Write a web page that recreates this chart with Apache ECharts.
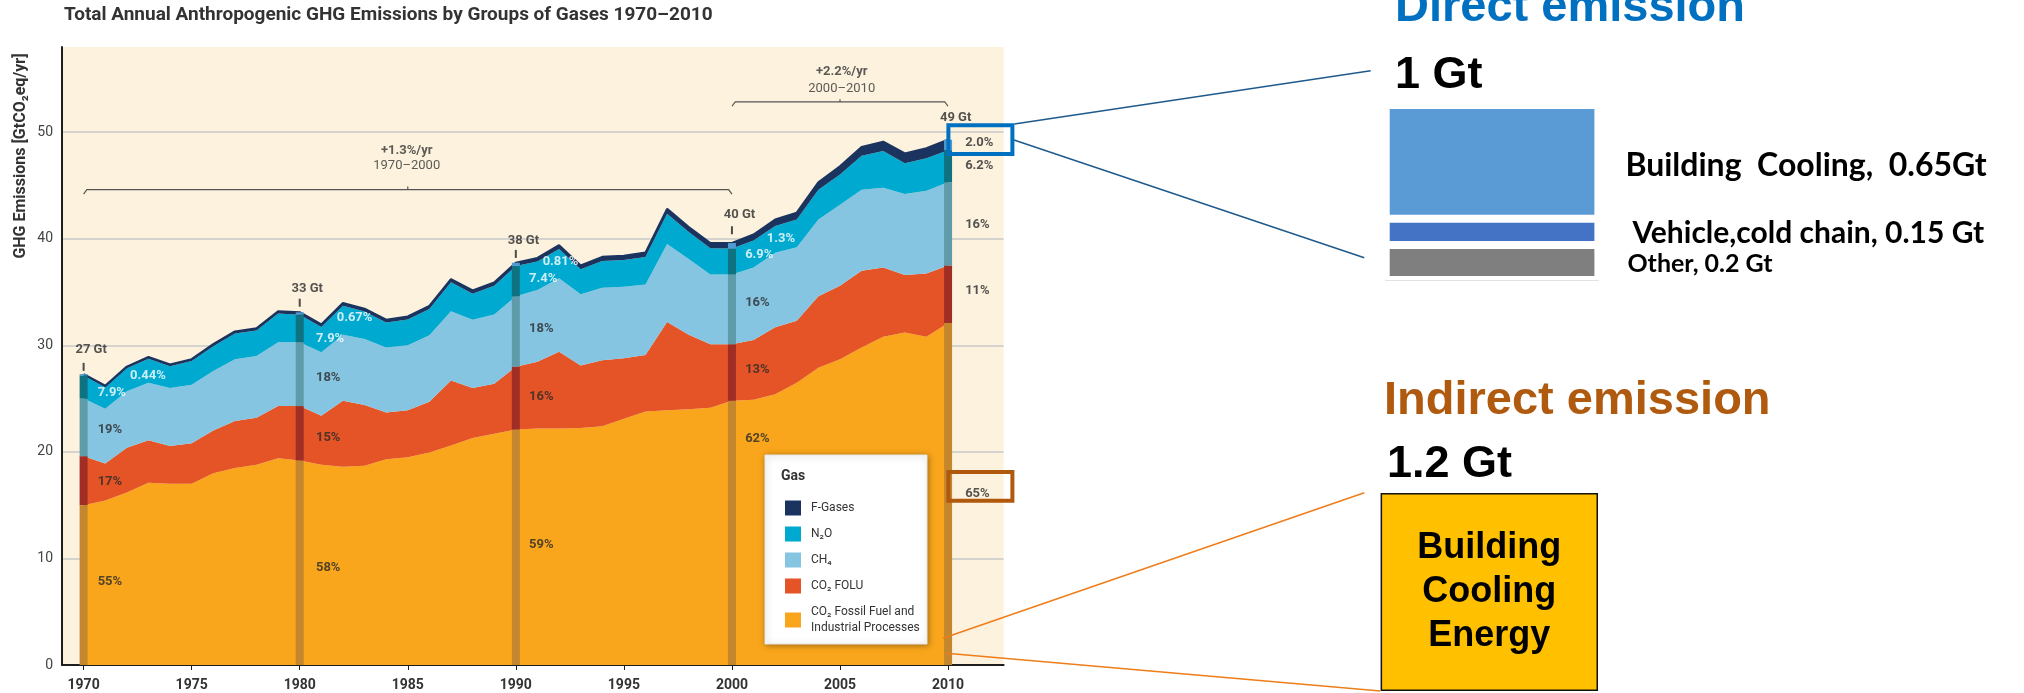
<!DOCTYPE html>
<html>
<head>
<meta charset="utf-8">
<script src="https://cdn.jsdelivr.net/npm/echarts@6.0.0/dist/echarts.min.js"></script>
<style>
  html, body { margin: 0; padding: 0; background: #fff; }
  #chart { width: 2024px; height: 693px; }
</style>
</head>
<body>
<div id="chart"></div>
<script>
// ---------------- data ----------------
const years = [1970, 1971, 1972, 1973, 1974, 1975, 1976, 1977, 1978, 1979,
               1980, 1981, 1982, 1983, 1984, 1985, 1986, 1987, 1988, 1989,
               1990, 1991, 1992, 1993, 1994, 1995, 1996, 1997, 1998, 1999,
               2000, 2001, 2002, 2003, 2004, 2005, 2006, 2007, 2008, 2009, 2010];

// GtCO2eq/yr, stacked bottom -> top
const co2Fossil = [15.0, 15.45, 16.2, 17.1, 17.0, 17.0, 18.0, 18.5, 18.8, 19.4,
                   19.2, 18.8, 18.6, 18.7, 19.3, 19.5, 19.95, 20.6, 21.3, 21.7,
                   22.1, 22.2, 22.2, 22.25, 22.4, 23.1, 23.8, 23.9, 24.0, 24.15,
                   24.8, 24.9, 25.4, 26.5, 27.9, 28.7, 29.8, 30.8, 31.2, 30.8, 32.1];
const co2Folu   = [4.6, 3.45, 4.2, 4.0, 3.55, 3.8, 4.0, 4.4, 4.4, 4.9,
                   5.1, 4.6, 6.2, 5.7, 4.4, 4.4, 4.75, 6.1, 4.7, 4.7,
                   5.9, 6.25, 7.2, 5.85, 6.2, 5.7, 5.3, 8.3, 7.0, 5.95,
                   5.3, 5.6, 6.3, 5.8, 6.7, 6.9, 7.2, 6.5, 5.4, 5.95, 5.4];
const ch4       = [5.4, 5.16, 5.3, 5.4, 5.45, 5.5, 5.6, 5.8, 5.8, 6.0,
                   6.0, 5.95, 6.2, 6.2, 6.1, 6.1, 6.25, 6.5, 6.4, 6.5,
                   6.6, 6.75, 6.9, 6.7, 6.8, 6.7, 6.6, 7.3, 7.1, 6.55,
                   6.55, 6.8, 7.0, 6.9, 7.2, 7.6, 7.6, 7.5, 7.6, 7.75, 7.8];
const n2o       = [2.18, 2.01, 2.16, 2.25, 2.04, 2.23, 2.32, 2.41, 2.4, 2.69,
                   2.58, 2.37, 2.72, 2.58, 2.34, 2.43, 2.47, 2.71, 2.45, 2.7,
                   2.84, 2.67, 2.75, 2.34, 2.52, 2.5, 2.58, 2.86, 2.54, 2.46,
                   2.43, 2.54, 2.5, 2.6, 2.8, 2.84, 3.19, 3.44, 2.9, 3.06, 3.02];
const fGases    = [0.12, 0.13, 0.14, 0.15, 0.16, 0.17, 0.18, 0.19, 0.2, 0.21,
                   0.22, 0.23, 0.24, 0.25, 0.26, 0.27, 0.28, 0.29, 0.3, 0.3,
                   0.31, 0.33, 0.35, 0.36, 0.38, 0.4, 0.42, 0.44, 0.46, 0.49,
                   0.52, 0.56, 0.6, 0.65, 0.7, 0.76, 0.81, 0.86, 0.9, 0.94, 0.98];

const gasNames = ['CO₂ Fossil Fuel and\nIndustrial Processes', 'CO₂ FOLU', 'CH₄', 'N₂O', 'F-Gases'];

// decade markers and their labels
const decadeYears = [1970, 1980, 1990, 2000, 2010];
const decadeTotals = ['27 Gt', '33 Gt', '38 Gt', '40 Gt', '49 Gt'];
const fGasShare  = ['0.44%', '0.67%', '0.81%', '1.3%', '2.0%'];
const n2oShare   = ['7.9%', '7.9%', '7.4%', '6.9%', '6.2%'];
const ch4Share   = ['19%', '18%', '18%', '16%', '16%'];
const foluShare  = ['17%', '15%', '16%', '13%', '11%'];
const fossilShare = ['55%', '58%', '59%', '62%', '65%'];
const xTickYears = [1970, 1975, 1980, 1985, 1990, 1995, 2000, 2005, 2010];

// label anchors (data coords)
const shareX   = [1970.65, 1980.75, 1990.61, 2000.61, 2010.79];
const fGasX    = [1972.15, 1981.71, 1991.24, 2001.61, 2010.79];
const fGasY    = [27.16, 32.58, 37.85, 40.01, 48.97];
const n2oY     = [25.54, 30.61, 36.25, 38.47, 46.83];
const ch4Y     = [22.09, 26.95, 31.55, 33.99, 41.29];
const foluY    = [17.23, 21.36, 25.22, 27.73, 35.15];
const fossilY  = [7.83, 9.09, 11.28, 21.21, 16.04];
const totalY   = [29.54, 35.34, 39.78, 42.29, 51.38];
const totalTickY = [27.98, 34.0, 38.58, 40.8];

// right-hand breakdown
const directNames  = ['Other', 'Vehicle,cold chain', 'Building Cooling'];
const directValues = [0.2, 0.15, 0.65];
const directLabels = ['Other, 0.2 Gt', 'Vehicle,cold chain, 0.15 Gt', 'Building  Cooling,  0.65Gt'];
const indirectValue = 1.2;

// ---------------- chart ----------------
const FONT = 'Roboto, "Open Sans", sans-serif';
const ARIAL = '"Liberation Sans", Arial, sans-serif';

const areaColors = ['#F9A61C', '#E45426', '#85C5E2', '#00A9CF', '#1B345F'];
const barColors  = ['#C4872E', '#A12E24', '#5F9BA9', '#0E7280', '#4F9AD0'];
const gasSeries  = [co2Fossil, co2Folu, ch4, n2o, fGases];

// value first, year second: the stack then runs on the value dimension
const pair = arr => arr.map((v, i) => [v, years[i]]);
const decadeIdx = decadeYears.map(y => years.indexOf(y));

const series = [];

gasSeries.forEach((arr, k) => {
  const top = k === 4;
  series.push({
    name: gasNames[k],
    type: 'line',
    stack: 'gas',
    data: pair(arr),
    encode: { x: 1, y: 0 },
    color: areaColors[k],
    symbol: 'none',
    silent: true,
    z: 2,
    lineStyle: top ? { width: 2.2, color: '#1B345F' } : { width: 0, opacity: 0 },
    areaStyle: { color: areaColors[k], opacity: 1 }
  });
});

gasSeries.forEach((arr, k) => {
  series.push({
    name: 'bar-' + k,
    type: 'bar',
    stack: 'decade',
    barWidth: 8,
    silent: true,
    z: 3,
    data: decadeIdx.map(i => [arr[i], years[i]]),
    encode: { x: 1, y: 0 },
    itemStyle: { color: barColors[k] }
  });
});

function textSeries(name, items, position, extra) {
  return {
    name,
    type: 'scatter',
    symbolSize: 0,
    silent: true,
    z: 6,
    data: items.map(d => ({
      value: [d[0], d[1]],
      label: { formatter: d[2], color: d[3] || '#2a2a2a', fontWeight: d[4] || 'bold' }
    })),
    label: Object.assign({
      show: true, position, distance: 0,
      fontFamily: FONT, fontSize: 13
    }, extra || {})
  };
}

const white = '#ffffff';
const shareItems = [];
decadeYears.forEach((y, i) => {
  const last = i === 4;
  shareItems.push([fGasX[i], fGasY[i], fGasShare[i], last ? null : white]);
  shareItems.push([shareX[i], n2oY[i], n2oShare[i], last ? null : white]);
  shareItems.push([shareX[i], ch4Y[i], ch4Share[i]]);
  shareItems.push([shareX[i], foluY[i], foluShare[i]]);
  shareItems.push([shareX[i], fossilY[i], fossilShare[i]]);
});
series.push(textSeries('shares', shareItems, 'right'));

series.push(textSeries('totals',
  decadeYears.map((y, i) => [y + 0.35, totalY[i], decadeTotals[i]]), 'inside'));

series.push({
  name: 'total-ticks',
  type: 'scatter',
  symbol: 'rect',
  symbolSize: [2, 8],
  silent: true,
  z: 6,
  itemStyle: { color: '#222' },
  data: totalTickY.map((v, i) => [decadeYears[i], v])
});

// growth-rate brackets
const bracketStyle = { color: '#555', width: 1.2 };
series.push({
  name: 'bracket-1', type: 'line', symbol: 'none', silent: true, z: 6,
  lineStyle: bracketStyle,
  data: [[1970, 44.2], [1970.15, 44.62], [1985, 44.62], [1985, 44.9], [1985, 44.62], [1999.85, 44.62], [2000, 44.2]]
});
series.push({
  name: 'bracket-2', type: 'line', symbol: 'none', silent: true, z: 6,
  lineStyle: bracketStyle,
  data: [[2000, 52.44], [2000.15, 52.85], [2005, 52.85], [2005, 53.1], [2005, 52.85], [2009.85, 52.85], [2010, 52.44]]
});
series.push(textSeries('bracket-text', [
  [1984.95, 48.24, '+1.3%/yr', '#333', 'bold'],
  [1984.95, 46.83, '1970–2000', '#333', 'normal'],
  [2005.08, 55.67, '+2.2%/yr', '#333', 'bold'],
  [2005.08, 54.11, '2000–2010', '#333', 'normal']
], 'inside'));

// direct emission stacked bar
const directColors = ['#7F7F7F', '#4472C4', '#5B9BD5'];
const directLabelCfg = [
  { fontSize: 25, distance: 29, offset: [0, 1] },
  { fontSize: 30, distance: 34, offset: [0, 1] },
  { fontSize: 32, distance: 27, offset: [0, 4] }
];
directValues.forEach((v, i) => {
  series.push({
    name: directNames[i],
    type: 'bar',
    xAxisIndex: 1,
    yAxisIndex: 1,
    stack: 'direct',
    barWidth: '100%',
    silent: true,
    data: [v],
    itemStyle: { color: directColors[i], borderColor: '#fff', borderWidth: 4 },
    label: {
      show: true,
      position: 'right',
      distance: directLabelCfg[i].distance,
      offset: directLabelCfg[i].offset,
      formatter: directLabels[i],
      fontFamily: 'Lato, sans-serif',
      fontWeight: 'bold',
      fontSize: directLabelCfg[i].fontSize,
      color: '#000'
    }
  });
});

// indirect emission bar
series.push({
  name: 'Building Cooling Energy',
  type: 'bar',
  xAxisIndex: 2,
  yAxisIndex: 2,
  barWidth: '100%',
  silent: true,
  data: [indirectValue],
  itemStyle: { color: '#FFC000', borderColor: '#111', borderWidth: 1.5 },
  label: {
    show: true,
    position: 'inside',
    formatter: 'Building\nCooling\nEnergy',
    fontFamily: ARIAL,
    fontWeight: 'bold',
    fontSize: 36,
    lineHeight: 44,
    color: '#000'
  }
});

const chart = echarts.init(document.getElementById('chart'));

chart.setOption({
  animation: false,
  backgroundColor: '#fff',
  title: {
    text: 'Total Annual Anthropogenic GHG Emissions by Groups of Gases 1970–2010',
    left: 64,
    top: 6,
    padding: 0,
    textStyle: { fontFamily: FONT, fontSize: 19, fontWeight: 'bold', color: '#333' }
  },
  legend: {
    orient: 'vertical',
    left: 780,
    top: 495,
    icon: 'rect',
    itemWidth: 16,
    itemHeight: 15,
    itemGap: 10,
    selectedMode: false,
    z: 4,
    data: ['F-Gases', 'N₂O', 'CH₄', 'CO₂ FOLU', 'CO₂ Fossil Fuel and\nIndustrial Processes'],
    textStyle: { fontFamily: FONT, fontSize: 12, color: '#333', lineHeight: 16, padding: [0, 0, 0, 5] }
  },
  grid: [
    { left: 62, right: 1020.4, top: 47, bottom: 28, show: true, backgroundColor: '#FCF2DE', borderWidth: 0 },
    { left: 1385.7, width: 212.7, top: 105, bottom: 413 },
    { left: 1380.6, width: 217.4, top: 493, bottom: 2 }
  ],
  xAxis: [
    {
      gridIndex: 0,
      type: 'value',
      min: 1969,
      max: 2012.57,
      axisLine: { lineStyle: { color: '#1e1e1e', width: 2 } },
      axisTick: { customValues: xTickYears, length: 5, lineStyle: { color: '#1e1e1e' } },
      axisLabel: {
        customValues: xTickYears,
        formatter: v => String(v),
        fontFamily: FONT, fontSize: 14, fontWeight: 'bold', color: '#333', margin: 13
      },
      splitLine: { show: false }
    },
    {
      gridIndex: 1, type: 'category', data: [''],
      axisLine: { lineStyle: { color: '#D9D9D9', width: 1.5 } },
      axisTick: { show: false }, axisLabel: { show: false }
    },
    { gridIndex: 2, type: 'category', data: [''], show: false }
  ],
  yAxis: [
    {
      gridIndex: 0,
      type: 'value',
      min: 0,
      max: 58,
      interval: 10,
      axisLine: { show: true, lineStyle: { color: '#1e1e1e', width: 2 } },
      axisTick: { show: false },
      axisLabel: { fontFamily: FONT, fontSize: 14, color: '#444', margin: 9, showMaxLabel: false },
      splitLine: {
        lineStyle: {
          color: ['#C8C8C8', '#C8C8C8', '#C8C8C8', '#C8C8C8', '#C8C8C8', '#C8C8C8', 'rgba(0,0,0,0)'],
          width: 1.5
        }
      }
    },
    { gridIndex: 1, type: 'value', min: 0, max: 1, show: false },
    { gridIndex: 2, type: 'value', min: 0, max: 1.2, show: false }
  ],
  graphic: [
    {
      type: 'text', x: 21, y: 156, rotation: Math.PI / 2, z: 10,
      style: {
        text: 'GHG Emissions [GtCO₂eq/yr]', fontFamily: FONT, fontSize: 16, fontWeight: 'bold',
        fill: '#333', textAlign: 'center', textVerticalAlign: 'middle'
      }
    },
    {
      type: 'rect', z: 3,
      shape: { x: 765, y: 455, width: 162, height: 189 },
      style: { fill: '#fff', stroke: '#e6e6e6', lineWidth: 1, shadowBlur: 6, shadowColor: 'rgba(0,0,0,0.35)', shadowOffsetX: 1, shadowOffsetY: 1 }
    },
    {
      type: 'text', x: 781, y: 476, z: 5,
      style: { text: 'Gas', fontFamily: FONT, fontSize: 14, fontWeight: 'bold', fill: '#333', textVerticalAlign: 'middle' }
    },
    // highlight boxes
    {
      type: 'rect', z: 10,
      shape: { x: 948.4, y: 125.3, width: 64, height: 28.7 },
      style: { fill: 'none', stroke: '#0070C0', lineWidth: 4 }
    },
    {
      type: 'rect', z: 10,
      shape: { x: 948.4, y: 472, width: 64, height: 28.7 },
      style: { fill: 'none', stroke: '#B0580C', lineWidth: 4 }
    },
    // connectors
    { type: 'line', z: 10, shape: { x1: 1014.3, y1: 124, x2: 1370.7, y2: 70.7 }, style: { stroke: '#1F5A8C', lineWidth: 1.5 } },
    { type: 'line', z: 10, shape: { x1: 1014, y1: 140, x2: 1364.3, y2: 257.7 }, style: { stroke: '#1F5A8C', lineWidth: 1.5 } },
    { type: 'line', z: 10, shape: { x1: 942.9, y1: 638.3, x2: 1364.3, y2: 492.7 }, style: { stroke: '#EE7D1A', lineWidth: 1.5 } },
    { type: 'line', z: 10, shape: { x1: 946.4, y1: 653.3, x2: 1380.4, y2: 691 }, style: { stroke: '#EE7D1A', lineWidth: 1.5 } },
    // right-hand headings
    {
      type: 'text', x: 1395, y: 8, z: 10,
      style: { text: 'Direct emission', fontFamily: ARIAL, fontSize: 47, fontWeight: 'bold', fill: '#0070C0', textVerticalAlign: 'middle' }
    },
    {
      type: 'text', x: 1395, y: 76, z: 10,
      style: { text: '1 Gt', fontFamily: ARIAL, fontSize: 45, fontWeight: 'bold', fill: '#000', textVerticalAlign: 'middle' }
    },
    {
      type: 'text', x: 1384, y: 401, z: 10,
      style: { text: 'Indirect emission', fontFamily: ARIAL, fontSize: 47, fontWeight: 'bold', fill: '#AF5A0E', textVerticalAlign: 'middle' }
    },
    {
      type: 'text', x: 1387, y: 465, z: 10,
      style: { text: '1.2 Gt', fontFamily: ARIAL, fontSize: 45, fontWeight: 'bold', fill: '#000', textVerticalAlign: 'middle' }
    }
  ],
  series
});
</script>
</body>
</html>
